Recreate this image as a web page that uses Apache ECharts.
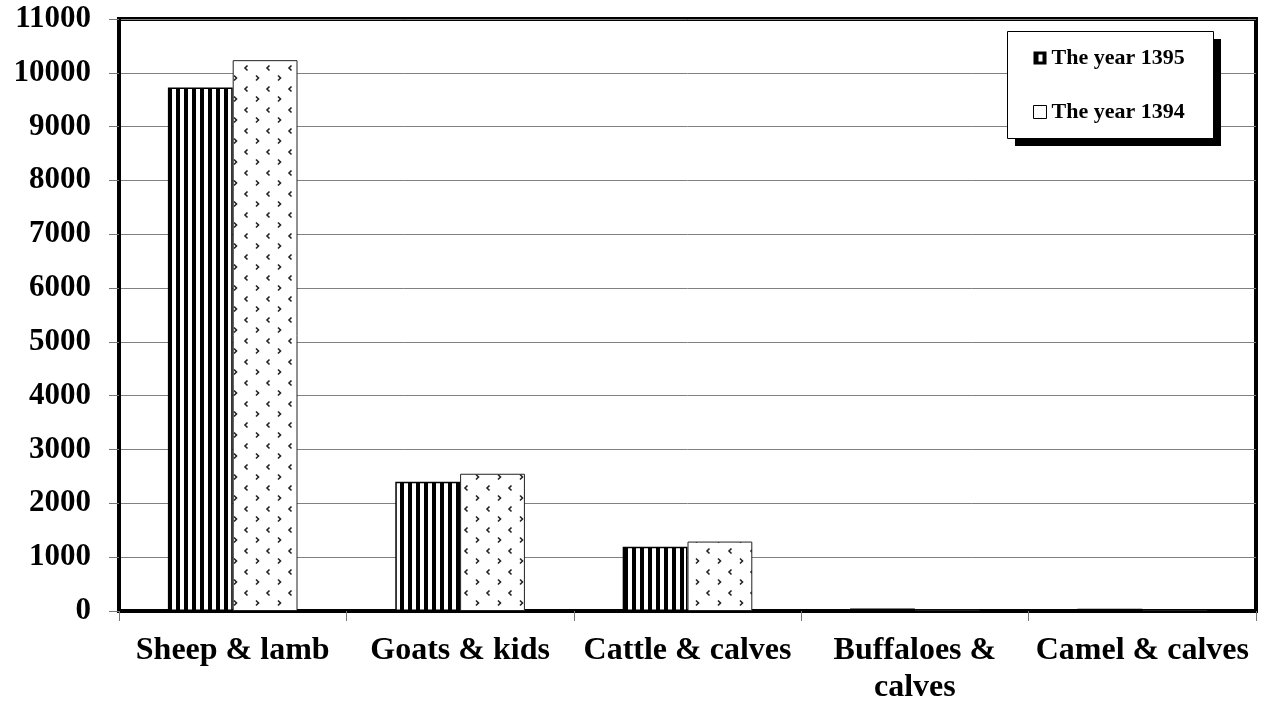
<!DOCTYPE html>
<html>
<head>
<meta charset="UTF-8">
<script type="text/javascript" src="https://cdn.jsdelivr.net/npm/echarts@6/dist/echarts.min.js"></script>
<title>Livestock</title>
<style>
	html, body { margin: 0; padding: 0; background: #fff; }
	#main { width: 1272px; height: 706px; }
</style>
</head>
<body>
<div id="main"></div>
<script type="text/javascript">
	var categories = ['Sheep & lamb', 'Goats & kids', 'Cattle & calves', 'Buffaloes &\ncalves', 'Camel & calves'];
	var year1395 = [9725, 2400, 1195, 45, 40];
	var year1394 = [10235, 2550, 1290, 25, 20];
	var seriesNames = ['The year 1395', 'The year 1394'];

	var FONT = '"Liberation Serif", "Times New Roman", serif';

	// vertical black/white stripes
	function stripePattern(){
		var c = document.createElement('canvas');
		c.width = 8; c.height = 8;
		var ctx = c.getContext('2d');
		ctx.fillStyle = '#fff';
		ctx.fillRect(0, 0, 8, 8);
		ctx.fillStyle = '#000';
		ctx.fillRect(0, 0, 4, 8);
		return c;
	}

	// small chevrons on white, staggered
	function dotPattern(){
		var c = document.createElement('canvas');
		c.width = 22; c.height = 21;
		var ctx = c.getContext('2d');
		ctx.fillStyle = '#fff';
		ctx.fillRect(0, 0, 22, 21);
		ctx.strokeStyle = '#222';
		ctx.lineWidth = 1.6;
		function lt(x, y){ ctx.beginPath(); ctx.moveTo(x + 2.5, y - 2.5); ctx.lineTo(x, y); ctx.lineTo(x + 2.5, y + 2.5); ctx.stroke(); }
		function gt(x, y){ ctx.beginPath(); ctx.moveTo(x, y - 2.5); ctx.lineTo(x + 2.5, y); ctx.lineTo(x, y + 2.5); ctx.stroke(); }
		lt(3, 5);
		gt(14, 15);
		return c;
	}

	var myChart = echarts.init(document.getElementById('main'));

	var option = {
		animation: false,
		backgroundColor: '#fff',
		grid: {
			left: 119,
			top: 19,
			right: 16,
			bottom: 92,
			show: true,
			borderColor: '#000',
			borderWidth: 4,
			backgroundColor: 'transparent'
		},
		// legend box with its hard drop shadow
		graphic: [
			{
				type: 'rect',
				z: 3,
				shape: { x: 1015, y: 39, width: 206, height: 107 },
				style: { fill: '#000' }
			},
			{
				type: 'rect',
				z: 3,
				shape: { x: 1007.5, y: 31.5, width: 206, height: 107 },
				style: { fill: '#fff', stroke: '#000', lineWidth: 1 }
			}
		],
		legend: {
			orient: 'vertical',
			left: 1007,
			top: 31,
			padding: [16, 26, 16, 26],
			itemGap: 32,
			itemWidth: 13,
			itemHeight: 13,
			z: 5,
			selectedMode: false,
			textStyle: {
				fontFamily: FONT,
				fontWeight: 'bold',
				fontSize: 22,
				color: '#000'
			},
			data: [
				{
					name: seriesNames[0],
					icon: 'path://M0,0H13V13H0Z M5,3V10H9V3Z',
					itemStyle: { color: '#000', borderWidth: 0 }
				},
				{
					name: seriesNames[1],
					icon: 'rect',
					itemStyle: { color: '#fff', borderColor: '#000', borderWidth: 1 }
				}
			]
		},
		xAxis: {
			type: 'category',
			data: categories,
			axisLine: { lineStyle: { color: '#000', width: 4 } },
			axisTick: { show: true, length: 10, lineStyle: { color: '#777', width: 1 } },
			axisLabel: {
				interval: 0,
				margin: 21,
				color: '#000',
				fontFamily: FONT,
				fontWeight: 'bold',
				fontSize: 32,
				lineHeight: 37
			}
		},
		yAxis: {
			type: 'value',
			min: 0,
			max: 11000,
			interval: 1000,
			axisLine: { show: true, lineStyle: { color: '#000', width: 4 } },
			axisTick: { show: true, length: 10, lineStyle: { color: '#777', width: 1 } },
			splitLine: { show: true, lineStyle: { color: '#808080', width: 1 } },
			axisLabel: {
				margin: 28,
				color: '#000',
				fontFamily: FONT,
				fontWeight: 'bold',
				fontSize: 31,
				formatter: function(v){ return String(v); }
			}
		},
		series: [
			{
				name: seriesNames[0],
				type: 'bar',
				data: year1395,
				barGap: '0%',
				barCategoryGap: '43%',
				itemStyle: {
					color: { image: stripePattern(), repeat: 'repeat' },
					borderColor: '#000',
					borderWidth: 1.5
				},
				emphasis: { disabled: true }
			},
			{
				name: seriesNames[1],
				type: 'bar',
				data: year1394,
				barGap: '0%',
				barCategoryGap: '43%',
				itemStyle: {
					color: { image: dotPattern(), repeat: 'repeat' },
					borderColor: '#222',
					borderWidth: 1
				},
				emphasis: { disabled: true }
			}
		]
	};

	myChart.setOption(option);
</script>
</body>
</html>
